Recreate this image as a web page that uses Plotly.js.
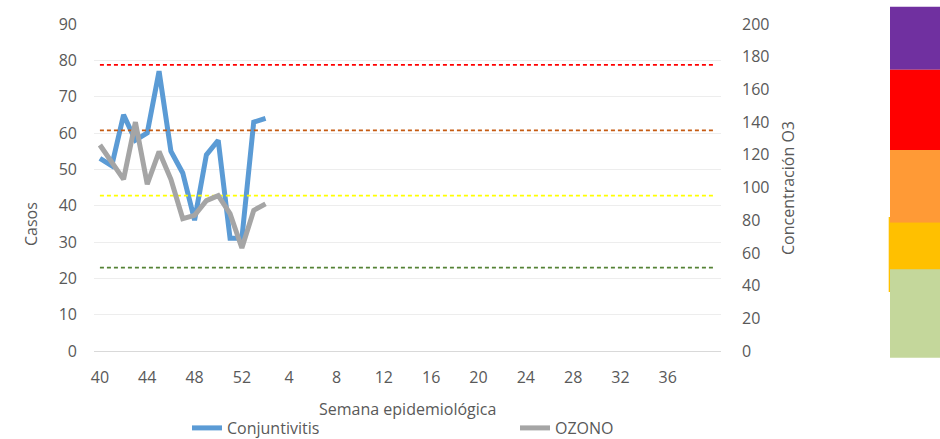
<!DOCTYPE html>
<html>
<head>
<meta charset="utf-8">
<script src="https://cdn.plot.ly/plotly-3.0.1.min.js"></script>
<style>html,body{margin:0;padding:0;background:#fff;}#chart{width:940px;height:439px;}</style>
</head>
<body>
<div id="chart"></div>
<script>
// Epidemiological weeks (categories)
const weeks = [40,41,42,43,44,45,46,47,48,49,50,51,52,1,2,3,4,5,6,7,8,9,10,11,12,13,14,15,16,17,18,19,20,21,22,23,24,25,26,27,28,29,30,31,32,33,34,35,36,37,38,39,40];
// Conjuntivitis cases (left axis)
const conjuntivitis = [53,51,65,58,60,77,55,49,36,54,58,31,31,63,64];
// Ozone concentration (right axis)
const ozono = [126,116,105,140,102,122,105,81,83,92,95,84,63,86,90];
// Ozone threshold lines (right axis)
const umbrales = [51,95,135,175];
const umbralColores = ['#548235','#FFFF00','#C55A11','#FF0000'];
// Tick labels shown every 4 weeks
const tickIdx = [0,4,8,12,16,20,24,28,32,36,40,44,48];

const idx = weeks.map((w,i)=>i);
const xConj = conjuntivitis.map((v,i)=>i);
const xOz = ozono.map((v,i)=>i);

const font = {family:'"Open Sans", sans-serif', size:16, color:'#595959'};

const traces = [];
umbrales.forEach((u,k)=>{
  traces.push({x:[idx[0], idx[idx.length-1]], y:[u,u], yaxis:'y2', mode:'lines',
    line:{color:umbralColores[k], width:1.8, dash:'4px,3px'}, showlegend:false, hoverinfo:'skip'});
});
traces.push({x:xConj, y:conjuntivitis, name:'Conjuntivitis', mode:'lines',
  line:{color:'#5B9BD5', width:5}, legend:'legend'});
traces.push({x:xOz, y:ozono, name:'OZONO', mode:'lines', yaxis:'y2',
  line:{color:'#A5A5A5', width:5}, legend:'legend2'});

const plotL = 94, plotR = 721, plotT = 24, plotB = 351, W = 940, H = 439;
const px = x => (x - plotL)/(plotR - plotL);
const py = y => (plotB - y)/(plotB - plotT);

const rects = [
  {x0:888.7, x1:940, y0:217, y1:292, c:'#FFC000'},
  {x0:890, x1:940, y0:6.7, y1:69.7, c:'#7030A0'},
  {x0:890, x1:940, y0:69.7, y1:150, c:'#FF0000'},
  {x0:890, x1:940, y0:150, y1:222.7, c:'#FF9A36'},
  {x0:890, x1:940, y0:222.7, y1:269.3, c:'#FFC000'},
  {x0:890, x1:940, y0:269.3, y1:357.7, c:'#C4D79B'}
];
const shapes = rects.map(r=>({type:'rect', xref:'paper', yref:'paper', layer:'above',
  x0:px(r.x0), x1:px(r.x1), y0:py(r.y1), y1:py(r.y0), fillcolor:r.c, line:{width:0}}));

const layout = {
  width:W, height:H,
  margin:{l:plotL, r:W-plotR, t:plotT, b:H-plotB, autoexpand:false},
  paper_bgcolor:'#fff', plot_bgcolor:'#fff',
  font:font,
  showlegend:true,
  xaxis:{range:[-0.5, weeks.length-0.5], tickmode:'array', tickvals:tickIdx,
    ticktext:tickIdx.map(i=>String(weeks[i])), showgrid:false, zeroline:false,
    showline:true, linecolor:'#D9D9D9', linewidth:1, ticks:'', ticklabelstandoff:12,
    tickfont:font, fixedrange:true, automargin:false},
  yaxis:{range:[0,90], dtick:10, showgrid:true, gridcolor:'#EDEDED', gridwidth:1,
    zeroline:false, showline:false, ticks:'', ticklabelstandoff:16, tickfont:font, automargin:false},
  yaxis2:{range:[0,200], dtick:20, overlaying:'y', side:'right', showgrid:false,
    zeroline:false, showline:false, ticks:'', ticklabelstandoff:20, tickfont:font, automargin:false},
  legend:{orientation:'h', x:px(187), xanchor:'left', y:py(428), yanchor:'middle',
    font:font, bgcolor:'rgba(0,0,0,0)', borderwidth:0},
  legend2:{orientation:'h', x:px(515), xanchor:'left', y:py(428), yanchor:'middle',
    font:font, bgcolor:'rgba(0,0,0,0)', borderwidth:0},
  shapes:shapes,
  annotations:[
    {text:'Casos', xref:'paper', yref:'paper', x:px(31), y:py(224), xanchor:'center', yanchor:'middle',
      textangle:-90, showarrow:false, font:font},
    {text:'Concentración O3', xref:'paper', yref:'paper', x:px(788), y:py(188), xanchor:'center', yanchor:'middle',
      textangle:-90, showarrow:false, font:font},
    {text:'Semana epidemiológica', xref:'paper', yref:'paper', x:px(407), y:py(409), xanchor:'center', yanchor:'middle',
      showarrow:false, font:font}
  ]
};

Plotly.newPlot('chart', traces, layout, {displayModeBar:false, staticPlot:true});
</script>
</body>
</html>
